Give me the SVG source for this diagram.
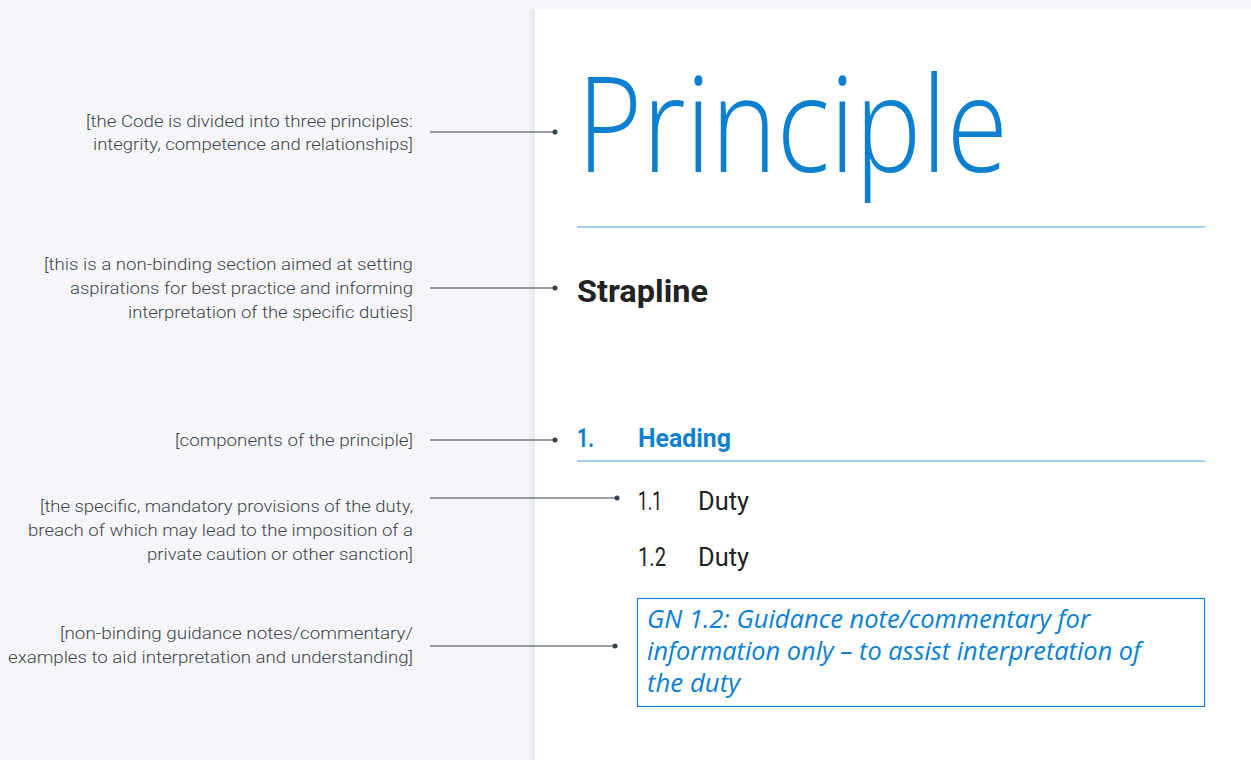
<svg xmlns="http://www.w3.org/2000/svg" width="1251" height="760" viewBox="0 0 1251 760">
<defs>
<linearGradient id="sh" x1="0" x2="1" y1="0" y2="0">
<stop offset="0" stop-color="#e9e9f0" stop-opacity="0"/>
<stop offset="1" stop-color="#e4e4ec" stop-opacity="1"/>
</linearGradient>
<style>
.lbl{font-family:Roboto,"Liberation Sans",sans-serif;font-weight:300;font-size:17px;fill:#3f454c;text-anchor:end}
.con{stroke:#34404a;stroke-width:1.2;fill:none}
.dot{fill:#34404a}
.blue{fill:#0b7fd0}
.rule{stroke:#4aa0da;stroke-width:1.2}
.duty{font-family:Roboto,"Liberation Sans",sans-serif;font-size:25px;fill:#222}
.gn{font-family:"Open Sans","Liberation Sans",sans-serif;font-style:italic;font-size:25px;fill:#0b7fd0}
</style>
</defs>
<rect width="1251" height="760" fill="#f6f6fa"/>
<rect x="527" y="9" width="8" height="751" fill="url(#sh)"/>
<rect x="535" y="9" width="716" height="751" fill="#ffffff"/>

<g id="principle">
<text x="577" y="172" class="blue" font-family="Open Sans, Liberation Sans, sans-serif" font-weight="300" font-size="133" textLength="431" lengthAdjust="spacingAndGlyphs">Principle</text>
<line x1="577" y1="227" x2="1205" y2="227" class="rule"/>
</g>
<g id="strapline">
<text x="577" y="302" font-family="Roboto, Liberation Sans, sans-serif" font-weight="bold" font-size="31" fill="#222" textLength="131" lengthAdjust="spacingAndGlyphs">Strapline</text>
</g>
<g id="heading">
<text x="577" y="447" class="blue" font-family="Roboto, Liberation Sans, sans-serif" font-weight="bold" font-size="25" textLength="17" lengthAdjust="spacingAndGlyphs">1.</text>
<text x="638" y="447" class="blue" font-family="Roboto, Liberation Sans, sans-serif" font-weight="bold" font-size="25" textLength="93" lengthAdjust="spacingAndGlyphs">Heading</text>
<line x1="577" y1="461" x2="1205" y2="461" class="rule"/>
</g>
<g id="duty11">
<text x="638" y="510" class="duty" textLength="24" lengthAdjust="spacingAndGlyphs">1.1</text>
<text x="698" y="510" class="duty" textLength="51" lengthAdjust="spacingAndGlyphs">Duty</text>
</g>
<g id="duty12">
<text x="638" y="566" class="duty" textLength="28" lengthAdjust="spacingAndGlyphs">1.2</text>
<text x="698" y="566" class="duty" textLength="51" lengthAdjust="spacingAndGlyphs">Duty</text>
</g>
<g id="guidance">
<rect x="637.5" y="598.5" width="567" height="108" fill="#fff" stroke="#1a80d0" stroke-width="1.2"/>
<text x="647" y="628" class="gn" textLength="443" lengthAdjust="spacingAndGlyphs">GN 1.2: Guidance note/commentary for</text>
<text x="647" y="660" class="gn" textLength="494" lengthAdjust="spacingAndGlyphs">information only – to assist interpretation of</text>
<text x="647" y="692" class="gn" textLength="93" lengthAdjust="spacingAndGlyphs">the duty</text>
</g>

<g id="label1">
<text x="413" y="127" class="lbl" textLength="327" lengthAdjust="spacingAndGlyphs">[the Code is divided into three principles:</text>
<text x="413" y="150" class="lbl" textLength="320" lengthAdjust="spacingAndGlyphs">integrity, competence and relationships]</text>
</g>
<g id="label2">
<text x="413" y="270" class="lbl" textLength="369" lengthAdjust="spacingAndGlyphs">[this is a non-binding section aimed at setting</text>
<text x="413" y="294" class="lbl" textLength="343" lengthAdjust="spacingAndGlyphs">aspirations for best practice and informing</text>
<text x="413" y="318" class="lbl" textLength="285" lengthAdjust="spacingAndGlyphs">interpretation of the specific duties]</text>
</g>
<g id="label3">
<text x="413" y="446" class="lbl" textLength="238" lengthAdjust="spacingAndGlyphs">[components of the principle]</text>
</g>
<g id="label4">
<text x="413" y="512" class="lbl" textLength="373" lengthAdjust="spacingAndGlyphs">[the specific, mandatory provisions of the duty,</text>
<text x="413" y="536" class="lbl" textLength="385" lengthAdjust="spacingAndGlyphs">breach of which may lead to the imposition of a</text>
<text x="413" y="560" class="lbl" textLength="266" lengthAdjust="spacingAndGlyphs">private caution or other sanction]</text>
</g>
<g id="label5">
<text x="413" y="639" class="lbl" textLength="353" lengthAdjust="spacingAndGlyphs">[non-binding guidance notes/commentary/</text>
<text x="413" y="663" class="lbl" textLength="405" lengthAdjust="spacingAndGlyphs">examples to aid interpretation and understanding]</text>
</g>

<g id="connectors">
<line x1="430" y1="132" x2="555" y2="132" class="con"/><circle cx="555" cy="132" r="2.5" class="dot"/>
<line x1="430" y1="288" x2="555" y2="288" class="con"/><circle cx="555" cy="288" r="2.5" class="dot"/>
<line x1="430" y1="440" x2="555" y2="440" class="con"/><circle cx="555" cy="440" r="2.5" class="dot"/>
<line x1="430" y1="498" x2="617" y2="498" class="con"/><circle cx="617" cy="498" r="2.5" class="dot"/>
<line x1="430" y1="646" x2="615" y2="646" class="con"/><circle cx="615" cy="646" r="2.5" class="dot"/>
</g>
</svg>
